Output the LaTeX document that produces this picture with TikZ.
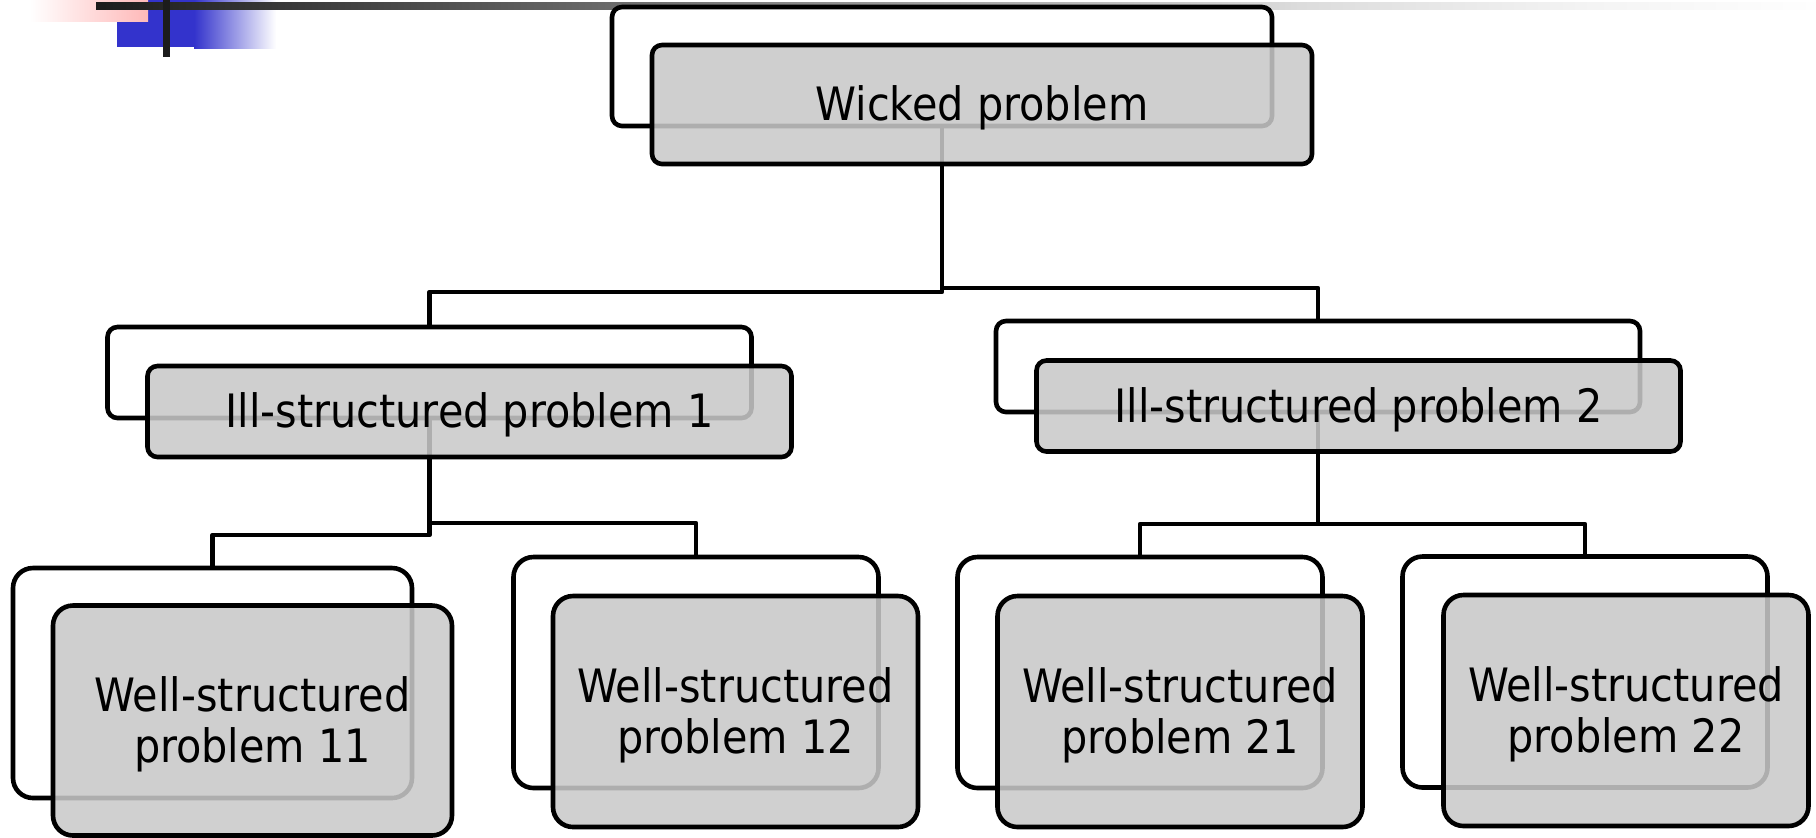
\documentclass[tikz,border=0pt]{standalone}
\usepackage{fontspec}
\setmainfont{DejaVu Sans Condensed}
\usetikzlibrary{calc}

\definecolor{slideblue}{RGB}{51,51,204}
\definecolor{slidepink}{RGB}{255,185,185}
\definecolor{boxgray}{RGB}{201,201,201}
\definecolor{barA}{RGB}{28,28,28}
\definecolor{barB}{RGB}{74,74,74}
\definecolor{barC}{RGB}{112,112,112}
\definecolor{barD}{RGB}{172,172,172}
\definecolor{barE}{RGB}{220,220,220}
\definecolor{barF}{RGB}{244,244,244}
\definecolor{barG}{RGB}{254,254,254}

% title rule: dark on the left, fading out to the right
\pgfdeclarehorizontalshading{titlebar}{100bp}{%
  color(0bp)=(barA); color(25bp)=(barA); color(33.85bp)=(barB);
  color(41bp)=(barC); color(51.25bp)=(barD); color(60bp)=(barE);
  color(68.5bp)=(barF); color(75bp)=(barG); color(100bp)=(barG)}

\tikzset{
  backbox/.style={draw=black, line width=2.3pt, fill=white,
    inner sep=0pt, outer sep=0pt},
  frontbox/.style={draw=black, line width=2.3pt, fill=boxgray,
    fill opacity=0.87, text opacity=1, inner sep=0pt, outer sep=0pt,
    align=center, font=\fontsize{23}{25.5}\selectfont},
  oneline/.style={text height=16pt, text depth=0pt},
  twoline/.style={text height=42pt, text depth=0pt},
  link/.style={draw=black, line width=2.3pt, line join=round},
  topsize/.style={minimum width=330pt, minimum height=59.5pt, rounded corners=5pt},
  midsize/.style={minimum width=322pt, minimum height=45.5pt, rounded corners=5pt},
  leafsize/.style={minimum width=182.5pt, minimum height=115.5pt, rounded corners=10pt},
  wideleaf/.style={minimum width=199.5pt, minimum height=115pt, rounded corners=10pt}
}

\begin{document}
\begin{tikzpicture}[x=0.5pt, y=-0.5pt]
\useasboundingbox (0,0) rectangle (1816,837);

% corner ornament and title rule
\fill[slideblue] (117,0) rectangle (194,47);
\shade[left color=slideblue, right color=white] (194,0) rectangle (276,48);
\shade[left color=white, right color=slidepink] (30,0) rectangle (148,21);
\shade[shading=titlebar] (96,2) rectangle (1816,9);
\fill[barA] (163,0) rectangle (170,57);

% shadow frames behind each box
\node[backbox, topsize]  (wpB)  at (942,66.5)   {};
\node[backbox, midsize]  (i1B)  at (429.5,372.5) {};
\node[backbox, midsize]  (i2B)  at (1318,366.5)  {};
\node[backbox, wideleaf] (w11B) at (212.5,683)   {};
\node[backbox, leafsize] (w12B) at (696,672.5)   {};
\node[backbox, leafsize] (w21B) at (1140,672.5)  {};
\node[backbox, leafsize] (w22B) at (1585,672)    {};

% tree connectors
\draw[link] (wpB.south) -- ++(0,166) -| (i1B.north);
\draw[link] (wpB.south) -- ++(0,162) -| (i2B.north);
\draw[link] (i1B.south) -- ++(0,117) -| (w11B.north);
\draw[link] (i1B.south) -- ++(0,105) -| (w12B.north);
\draw[link] (i2B.south) -- ++(0,112) -| (w21B.north);
\draw[link] (i2B.south) -- ++(0,112) -| (w22B.north);

% labelled boxes
\node[frontbox, topsize, oneline]  (wp)  at (982,104.5)  {Wicked problem};
\node[frontbox, midsize, oneline]  (i1)  at (469.5,411.5) {Ill-structured problem 1};
\node[frontbox, midsize, oneline]  (i2)  at (1358.5,406)  {Ill-structured problem 2};
\node[frontbox, wideleaf, twoline] (w11) at (252.5,720.5) {Well-structured\\problem 11};
\node[frontbox, leafsize, twoline] (w12) at (735.5,711.5) {Well-structured\\problem 12};
\node[frontbox, leafsize, twoline] (w21) at (1180,711.5)  {Well-structured\\problem 21};
\node[frontbox, leafsize, twoline] (w22) at (1626,710.5)  {Well-structured\\problem 22};
\end{tikzpicture}
\end{document}
